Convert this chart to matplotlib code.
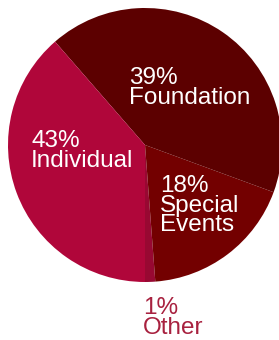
import matplotlib
matplotlib.use('Agg')
import matplotlib.pyplot as plt

# wedge sizes as drawn (percent), counter-clockwise from straight down
sources = ['Other', 'Special\nEvents', 'Foundation', 'Individual']
shares = [1.2, 18.2, 42.0, 38.6]
pct_labels = ['1%', '18%', '39%', '43%']
colors = ['#980832', '#730000', '#5c0000', '#b0063a']

plt.rcParams['font.family'] = ['Liberation Sans', 'DejaVu Sans']

fig = plt.figure(figsize=(2.79, 3.40), dpi=100)
ax = fig.add_axes([0, 0, 1, 1])

ax.pie(shares, colors=colors, startangle=-90, counterclock=True,
       center=(145, 195), radius=137, frame=True,
       wedgeprops=dict(linewidth=0))
ax.set_xlim(0, 279)
ax.set_ylim(0, 340)
ax.set_aspect('equal')
ax.axis('off')

# label text: (x, y_top) in pixels from top-left
label_pos = {'Foundation': (129, 67), 'Special\nEvents': (160, 175),
             'Individual': (31, 130), 'Other': (143, 297)}
for name, pct in zip(sources, pct_labels):
    x, y = label_pos[name]
    col = '#a8213f' if name == 'Other' else 'white'
    ax.text(x, 340 - y, f'{pct}\n{name}', ha='left', va='top',
            fontsize=17.5, color=col, linespacing=0.86)

fig.savefig('out.png', dpi=100)
